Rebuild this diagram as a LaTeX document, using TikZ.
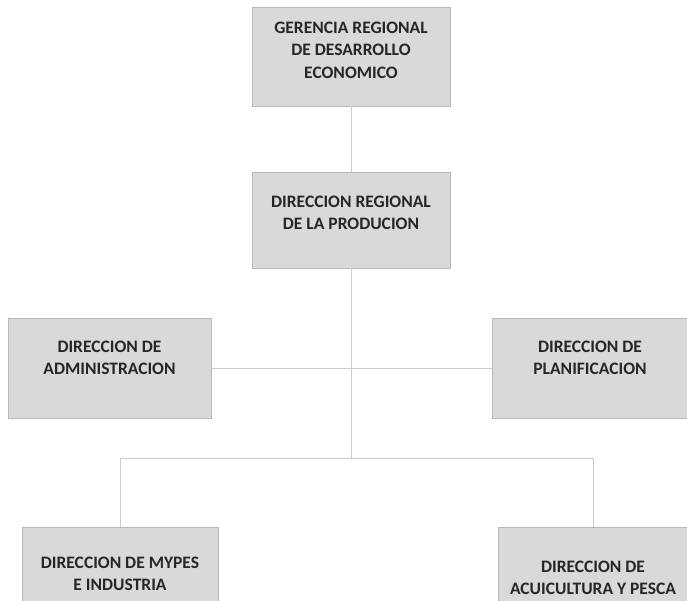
\documentclass[tikz,border=0pt]{standalone}
\usepackage{fontspec}
\setmainfont{Carlito}
\begin{document}
\begin{tikzpicture}[x=1pt,y=-1pt,
  box/.style={draw=black!28,fill=black!15,line width=0.8pt,inner sep=0pt},
  txt/.style={align=center,font=\bfseries\fontsize{17.5}{22.5}\selectfont,text=black!85,inner sep=0pt},
  conn/.style={draw=black!20,line width=0.8pt}]
\useasboundingbox (0,0) rectangle (687,601);
\node[box,minimum width=198pt,minimum height=99pt] (g) at (351,56.5) {};
\node[txt] (gt) at (351,50) {GERENCIA REGIONAL\\DE DESARROLLO\\ECONOMICO};
\node[box,minimum width=198pt,minimum height=96pt] (d) at (351,220) {};
\node[txt] (dt) at (351,213) {DIRECCION REGIONAL\\DE LA PRODUCION};
\node[box,minimum width=203pt,minimum height=100pt] (a) at (109.5,368) {};
\node[txt] (at) at (109.5,358) {DIRECCION DE\\ADMINISTRACION};
\node[box,minimum width=196pt,minimum height=100pt] (p) at (590,368) {};
\node[txt] (pt) at (590,358) {DIRECCION DE\\PLANIFICACION};
\node[box,minimum width=196pt,minimum height=100pt,anchor=north] (m) at (120,527) {};
\node[txt] (mt) at (120,574) {DIRECCION DE MYPES\\E INDUSTRIA};
\node[box,minimum width=190pt,minimum height=100pt,anchor=north] (c) at (593,527) {};
\node[txt] (ct) at (593,578) {DIRECCION DE\\ACUICULTURA Y PESCA};
\coordinate (bus) at (351,458);
\draw[conn] (g) -- (d);
\draw[conn] (d) -- (bus);
\draw[conn] (a.east) -- (p.west);
\draw[conn] (bus) -| (m.north);
\draw[conn] (bus) -| (c.north);
\end{tikzpicture}
\end{document}
